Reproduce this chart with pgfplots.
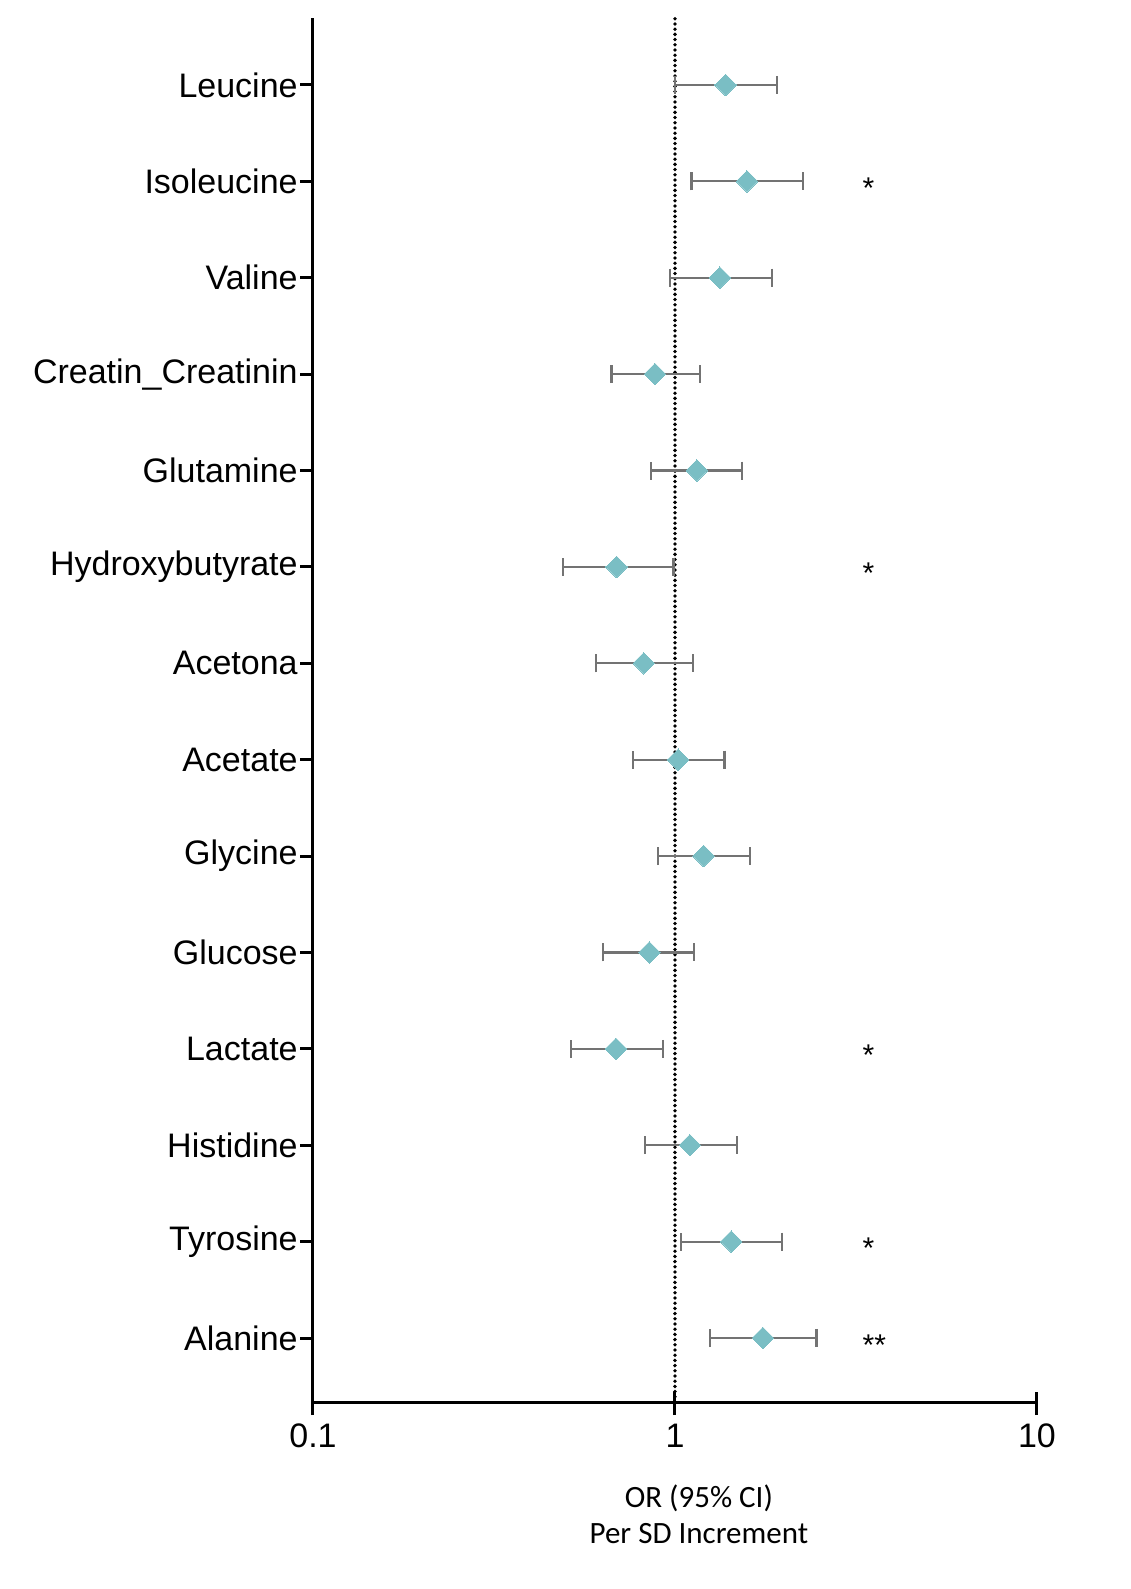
\documentclass[border=0pt]{standalone}
\usepackage{pgfplots}
\pgfplotsset{compat=1.18}
\usepackage{pgfplotstable}
\usepackage{fontspec}
\setmainfont{Liberation Sans}
\newfontfamily\calibri{Carlito}
\definecolor{markteal}{RGB}{122,190,196}
\definecolor{bargray}{RGB}{115,115,115}

% odds ratio with 95% CI, 14 = top row
\pgfplotstableread{
y  or    lo    hi
14 1.38  1.00  1.91
13 1.58  1.11  2.26
12 1.33  0.97  1.85
11 0.88  0.668 1.17
10 1.15  0.86  1.53
9  0.69  0.49  0.99
8  0.82  0.605 1.12
7  1.02  0.767 1.37
6  1.20  0.896 1.61
5  0.85  0.634 1.13
4  0.687 0.515 0.925
3  1.10  0.826 1.48
2  1.43  1.04  1.98
1  1.75  1.25  2.46
}\ortable

\pgfplotstableread{
y  x    lab
13 3.29 *
9  3.29 *
4  3.29 *
2  3.29 *
1  3.29 **
}\startable

\begin{document}
\begin{tikzpicture}
\useasboundingbox (-156.5pt,-93.5pt) rectangle (408.5pt,701pt);
\begin{axis}[
    scale only axis,
    width=362pt, height=692pt,
    xmode=log,
    xmin=0.1, xmax=10,
    ymin=0.336, ymax=14.695,
    axis x line=bottom, axis y line=left,
    axis line style={-, line width=1.5pt, black},
    xtick={0.1,1,10}, xticklabels={0.1,1,10},
    xminorticks=false,
    extra x ticks={1,10}, extra x tick labels={},
    extra x tick style={tick align=inside, major tick length=5pt},
    ytick={1,...,14},
    yticklabels={Alanine,Tyrosine,Histidine,Lactate,Glucose,Glycine,Acetate,Acetona,Hydroxybutyrate,Glutamine,Creatin\_Creatinin,Valine,Isoleucine,Leucine},
    tick align=outside,
    major tick length=6.5pt,
    tick style={black, line width=1.5pt},
    /pgf/number format/assume math mode=true,
    xticklabel style={font=\fontsize{17pt}{20pt}\selectfont, yshift=-1pt},
    yticklabel style={font=\fontsize{17pt}{20pt}\selectfont, inner sep=0pt, xshift=-1pt},
    xlabel={OR (95\% CI)\\Per SD Increment},
    xlabel style={font=\calibri\fontsize{15.5pt}{18pt}\selectfont, align=center,
        at={(axis description cs:0.533,0)}, anchor=center, yshift=-56pt},
    clip=false,
]
\addplot[black, line width=1.9pt, line cap=round, dash pattern=on 0pt off 2.6pt]
    coordinates {(1,0.336) (1,14.695)};

\addplot[only marks, mark=square*,
    mark size=3.8pt,
    mark options={rotate=45, fill=markteal, draw=markteal, line width=0pt},
    error bars/.cd, x dir=both, x explicit,
    error bar style={draw=bargray, line width=1.1pt, solid},
    error mark=|,
    error mark options={draw=bargray, line width=1.1pt, mark size=4.5pt}]
    table[x=or, y=y,
          x error plus expr=\thisrow{hi}-\thisrow{or},
          x error minus expr=\thisrow{or}-\thisrow{lo}] {\ortable};

\addplot[only marks, mark=none, nodes near coords,
    point meta=explicit symbolic,
    nodes near coords style={anchor=base west, inner sep=0pt, yshift=-8.5pt,
        font=\fontsize{15pt}{17pt}\selectfont, black}]
    table[x=x, y=y, meta=lab] {\startable};
\end{axis}
\end{tikzpicture}
\end{document}
